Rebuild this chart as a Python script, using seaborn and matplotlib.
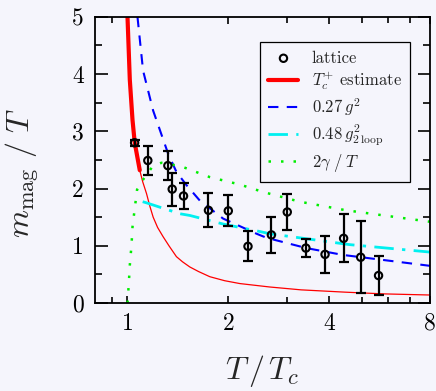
import matplotlib
matplotlib.use('Agg')
import matplotlib.pyplot as plt
import seaborn as sns
from matplotlib.ticker import FixedLocator, NullFormatter

bg = '#f5f5fc'

# lattice data (T/Tc, m_mag/T, error)
T_lat = [1.05, 1.15, 1.32, 1.36, 1.47, 1.745, 2.0, 2.29, 2.69, 3.0, 3.41, 3.89, 4.42, 4.97, 5.62]
m_lat = [2.80, 2.49, 2.40, 1.99, 1.87, 1.62, 1.61, 0.99, 1.19, 1.59, 0.96, 0.85, 1.13, 0.80, 0.48]
err_lat = [0.05, 0.25, 0.25, 0.29, 0.23, 0.30, 0.27, 0.26, 0.31, 0.32, 0.16, 0.32, 0.42, 0.63, 0.34]

# Tc+ estimate, thick part and thin continuation
T_red_thick = [1.0, 1.016, 1.035, 1.051, 1.088]
y_red_thick = [5.0, 3.90, 3.20, 2.80, 2.32]
T_red_thin = [1.088, 1.11, 1.14, 1.165, 1.193, 1.23, 1.277, 1.33, 1.40, 1.46, 1.535, 1.63,
              1.761, 1.95, 2.165, 2.66, 3.3, 4.46, 5.8, 8.0]
y_red_thin = [2.32, 2.12, 1.91, 1.70, 1.50, 1.32, 1.16, 1.00, 0.81, 0.72, 0.63, 0.55,
              0.46, 0.39, 0.34, 0.28, 0.23, 0.19, 0.16, 0.14]

# 0.27 g^2
T_blue = [1.071, 1.113, 1.193, 1.322, 1.40, 1.50, 1.644, 1.93, 2.43, 2.6, 3.42, 4.4, 8.0]
y_blue = [5.0, 4.06, 3.36, 2.61, 2.29, 2.06, 1.79, 1.475, 1.21, 1.14, 0.96, 0.84, 0.65]

# 0.48 g^2 (2 loop)
T_cyan = [1.11, 1.14, 1.433, 1.535, 1.93, 2.48, 2.66, 4.61, 8.0]
y_cyan = [1.77, 1.75, 1.56, 1.53, 1.38, 1.25, 1.21, 1.02, 0.89]

# 2 gamma / T
T_green = [1.0, 1.009, 1.016, 1.028, 1.035, 1.051, 1.068, 1.108, 1.193, 1.263, 1.443, 1.76, 2.165, 2.54, 3.27, 4.5, 8.0]
y_green = [0.0, 0.34, 0.66, 1.01, 1.33, 1.65, 1.98, 2.14, 2.40, 2.45, 2.39, 2.20, 2.07, 1.94, 1.77, 1.62, 1.42]

x_ticks = [1, 2, 4, 8]
y_ticks = [0, 1, 2, 3, 4, 5]

sns.set_style('ticks')
plt.rcParams['font.family'] = ['cmr10', 'DejaVu Serif']
plt.rcParams['mathtext.fontset'] = 'cm'
plt.rcParams['axes.formatter.use_mathtext'] = True
plt.rcParams['axes.unicode_minus'] = False

fig = plt.figure(figsize=(4.36, 3.91), dpi=100, facecolor=bg)
ax = fig.add_axes([0.218, 0.225, 0.768, 0.732])
ax.set_facecolor(bg)
ax.set_xscale('log')

sns.lineplot(x=T_red_thin, y=y_red_thin, ax=ax, color='red', linewidth=0.9,
             sort=False, estimator=None)
sns.lineplot(x=T_red_thick, y=y_red_thick, ax=ax, color='red', linewidth=3.0,
             sort=False, estimator=None, label=r'$T_c^{+}$ estimate')
sns.lineplot(x=T_blue, y=y_blue, ax=ax, color='#0000ff', linewidth=1.5,
             linestyle=(0, (5, 4)), sort=False, estimator=None, label=r'$0.27\,g^2$')
sns.lineplot(x=T_cyan, y=y_cyan, ax=ax, color='#00f0f0', linewidth=2.0,
             linestyle=(0, (7, 3, 1.2, 3)), sort=False, estimator=None,
             label=r'$0.48\,g^2_{2\;\mathrm{loop}}$')
sns.lineplot(x=T_green, y=y_green, ax=ax, color='#00ee00', linewidth=1.8,
             linestyle=(0, (1, 4)), sort=False, estimator=None, label=r'$2\gamma\;/\;T$')

ax.errorbar(T_lat, m_lat, yerr=err_lat, fmt='none', ecolor='black',
            elinewidth=1.6, capsize=3.5, capthick=1.6, zorder=5)
sns.scatterplot(x=T_lat, y=m_lat, ax=ax, marker='o', s=28, facecolor='none',
                edgecolor='black', linewidth=1.5, zorder=6, label='lattice')

ax.set_xlim(0.8, 8)
ax.set_ylim(0, 5)
ax.set_xticks(x_ticks, labels=[str(t) for t in x_ticks])
ax.xaxis.set_minor_locator(FixedLocator([0.9, 3, 5, 6, 7]))
ax.xaxis.set_minor_formatter(NullFormatter())
ax.set_yticks(y_ticks, labels=[str(t) for t in y_ticks])
ax.yaxis.set_minor_locator(FixedLocator([0.5, 1.5, 2.5, 3.5, 4.5]))

ax.tick_params(which='both', direction='in', top=True, right=True, width=1.2,
               labelsize=17, colors='black')
ax.tick_params(axis='x', which='major', length=5, pad=7)
ax.tick_params(axis='x', which='minor', length=4)
ax.tick_params(axis='y', which='major', length=9, pad=8)
ax.tick_params(axis='y', which='minor', length=5)
for s in ax.spines.values():
    s.set_linewidth(1.3)
    s.set_color('black')

ax.set_xlabel(r'$T\,/\,T_c$', fontsize=23)
ax.xaxis.set_label_coords(0.5, -0.175)
ax.set_ylabel(r'$m_{\rm mag}\ /\ T$', fontsize=23)
ax.yaxis.set_label_coords(-0.16, 0.454)

handles, labels = ax.get_legend_handles_labels()
order = [labels.index('lattice')] + [i for i, l in enumerate(labels) if l != 'lattice']
leg = ax.legend([handles[i] for i in order], [labels[i] for i in order],
                loc='upper left', bbox_to_anchor=(0.493, 0.912), fontsize=12,
                frameon=True, fancybox=False, edgecolor='black', facecolor=bg,
                framealpha=1, handlelength=1.8, labelspacing=0.25, borderpad=0.5,
                handletextpad=0.8, borderaxespad=0)
leg.get_frame().set_linewidth(0.9)

fig.savefig('out.png', dpi=100, facecolor=bg)
